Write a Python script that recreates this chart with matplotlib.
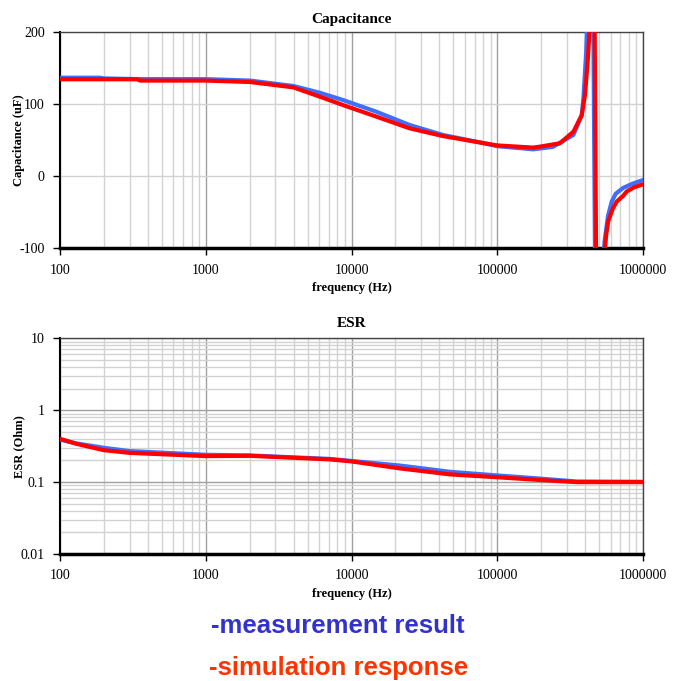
import numpy as np
import matplotlib.pyplot as plt
from matplotlib.ticker import FixedLocator, LogLocator, NullFormatter

# --------------- data -------------------------------------------------
cap_f_meas = [100, 188, 200, 354, 1000, 2013, 3985, 6080, 8750, 14800, 25000,
              42400, 71800, 100000, 176000, 241000, 333000, 380000, 390000,
              407000, 420000, 455000, 470000, 520000, 545000, 575000, 610000,
              650000, 730000, 850000, 1000000]
cap_meas = [137, 137, 136, 135, 135, 133, 125.5, 116, 106, 89.8, 71.4,
            57.5, 48.2, 42, 37.6, 41, 57.5, 85, 108,
            170, 250, 250, -150, -150, -90, -55, -35,
            -24, -16, -10, -5]

cap_f_sim = [100, 340, 354, 1000, 2013, 3985, 6080, 8750, 14800, 25000,
             42400, 71800, 100000, 176000, 196000, 269000, 333000, 380000,
             400000, 419000, 440000, 465000, 478000, 540000, 548000, 560000,
             578000, 620000, 659000, 730000, 772000, 870000, 1000000]
cap_sim = [134.8, 134.8, 133, 133, 131, 123.6, 110.6, 99, 83, 66.8,
           56, 48, 43, 40, 41.3, 46, 62, 85,
           113, 164, 240, 240, -150, -150, -100, -80,
           -62, -45, -35, -27, -21, -15, -11]

esr_f = [100, 130, 200, 300, 1000, 2010, 7120, 10000, 21500, 47500, 99000,
         196000, 351000, 1000000]
esr_meas = [0.39, 0.345, 0.30, 0.27, 0.24, 0.235, 0.21, 0.197, 0.17, 0.139,
            0.124, 0.112, 0.102, 0.101]
esr_sim = [0.40, 0.34, 0.278, 0.255, 0.23, 0.232, 0.207, 0.194, 0.155, 0.128,
           0.117, 0.107, 0.100, 0.100]

xticks = [100, 1000, 10000, 100000, 1000000]
xticklabels = ['100', '1000', '10000', '100000', '1000000']
cap_yticks = [-100, 0, 100, 200]
cap_yticklabels = ['-100', '0', '100', '200']
esr_yticks = [0.01, 0.1, 1, 10]
esr_yticklabels = ['0.01', '0.1', '1', '10']

# --------------- plot setup --------------------------
plt.rcParams.update({'font.family': 'Liberation Serif',
                     'font.size': 10,
                     'axes.unicode_minus': False})

BLUE = '#3f6fff'
RED = '#ff0000'
MINOR = '#d2d2d2'
MAJOR = '#a0a0a0'

fig = plt.figure(figsize=(6.86, 6.81), dpi=100)
ax1 = fig.add_axes([0.0875, 0.6351, 0.8498, 0.3175])
ax2 = fig.add_axes([0.0875, 0.1865, 0.8498, 0.3167])


def style_axes(ax):
    ax.set_xscale('log')
    ax.set_xlim(100, 1e6)
    ax.xaxis.set_major_locator(FixedLocator(xticks))
    ax.set_xticklabels(xticklabels)
    ax.xaxis.set_minor_locator(LogLocator(base=10, subs=np.arange(2, 10)))
    ax.xaxis.set_minor_formatter(NullFormatter())
    ax.grid(True, which='major', axis='x', color=MAJOR, lw=1.0, zorder=0)
    ax.grid(True, which='minor', axis='x', color=MINOR, lw=1.0, zorder=0)
    ax.tick_params(which='minor', length=0)
    ax.tick_params(which='major', length=5, width=1, direction='out',
                   labelsize=10, pad=6)
    ax.spines['left'].set_color('black')
    ax.spines['left'].set_linewidth(1.5)
    ax.spines['bottom'].set_color('black')
    ax.spines['bottom'].set_linewidth(2.5)
    ax.spines['top'].set_color('#444444')
    ax.spines['right'].set_color('#444444')
    ax.spines['top'].set_linewidth(1)
    ax.spines['right'].set_linewidth(1)
    ax.set_axisbelow(True)
    ax.set_xlabel('frequency (Hz)', fontweight='bold', fontsize=9, labelpad=4)


# Capacitance
style_axes(ax1)
ax1.plot(cap_f_meas, cap_meas, color=BLUE, lw=3, zorder=3)
ax1.plot(cap_f_sim, cap_sim, color=RED, lw=3, zorder=4)
ax1.set_ylim(-100, 200)
ax1.set_yticks(cap_yticks)
ax1.set_yticklabels(cap_yticklabels)
ax1.grid(True, which='major', axis='y', color=MINOR, lw=1.0, zorder=0)
ax1.set_ylabel('Capacitance (uF)', fontweight='bold', fontsize=9)
ax1.yaxis.set_label_coords(-0.06, 0.5)
ax1.set_title('Capacitance', fontweight='bold', fontsize=11, pad=7)

# ESR
style_axes(ax2)
ax2.set_yscale('log')
ax2.plot(esr_f, esr_meas, color=BLUE, lw=3, zorder=3)
ax2.plot(esr_f, esr_sim, color=RED, lw=3, zorder=4)
ax2.set_ylim(0.01, 10)
ax2.yaxis.set_major_locator(FixedLocator(esr_yticks))
ax2.set_yticklabels(esr_yticklabels)
ax2.yaxis.set_minor_locator(LogLocator(base=10, subs=np.arange(2, 10)))
ax2.yaxis.set_minor_formatter(NullFormatter())
ax2.grid(True, which='major', axis='y', color=MAJOR, lw=1.0, zorder=0)
ax2.grid(True, which='minor', axis='y', color=MINOR, lw=1.0, zorder=0)
ax2.tick_params(which='minor', length=0)
ax2.set_ylabel('ESR (Ohm)', fontweight='bold', fontsize=9)
ax2.yaxis.set_label_coords(-0.06, 0.5)
ax2.set_title('ESR', fontweight='bold', fontsize=11, pad=8)

# legend-like captions underneath
fig.text(0.493, 1 - 626 / 681, '-measurement result', color='#3333cc',
         fontsize=18.5, fontweight='bold', family='Liberation Sans',
         ha='center', va='center')
fig.text(0.493, 1 - 668 / 681, '-simulation response', color='#ff3300',
         fontsize=18.5, fontweight='bold', family='Liberation Sans',
         ha='center', va='center')

fig.savefig('out.png', dpi=100)
